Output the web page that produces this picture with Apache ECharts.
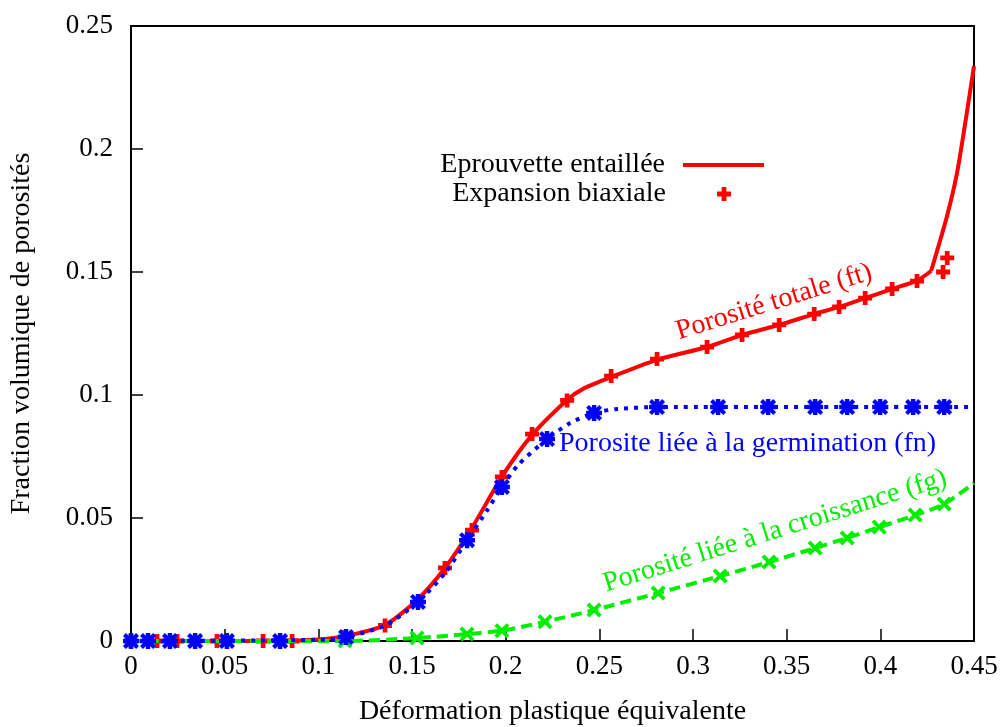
<!DOCTYPE html>
<html>
<head>
<meta charset="utf-8">
<script src="https://cdn.jsdelivr.net/npm/echarts@6/dist/echarts.min.js"></script>
<style>
html,body{margin:0;padding:0;background:#fff;}
#chart{width:1006px;height:727px;}
</style>
</head>
<body>
<div id="chart"></div>
<script>
// ---- data (x = equivalent plastic strain, y = porosity fraction) ----
const ftLine = [[0,0],[0.08,0],[0.1,0.0006],[0.117,0.0024],[0.1356,0.0065],[0.1527,0.0167],[0.1676,0.0297],[0.182,0.046],[0.1986,0.0675],[0.214,0.0837],[0.2328,0.098],[0.2413,0.1025],[0.257,0.1075],[0.2808,0.1143],[0.3075,0.1195],[0.3262,0.1244],[0.346,0.1285],[0.3647,0.1329],[0.378,0.1358],[0.3919,0.1394],[0.4063,0.1431],[0.4196,0.1465],[0.4271,0.1504]];
const ftLineEnd = [[0.4271,0.1504],[0.4355,0.1725],[0.4409,0.1901],[0.4453,0.2104],[0.45,0.2337]];
const ftPoints = [[0,0],[0.0139,0],[0.0246,0],[0.0459,0],[0.0705,0],[0.086,0],[0.114,0.0016],[0.1356,0.0063],[0.1676,0.0297],[0.182,0.0451],[0.198,0.0667],[0.2141,0.0841],[0.2328,0.0978],[0.2563,0.1077],[0.2808,0.1146],[0.3075,0.1195],[0.3262,0.1244],[0.346,0.1285],[0.3647,0.1329],[0.378,0.1358],[0.3919,0.1394],[0.4063,0.1431],[0.4196,0.1463],[0.4335,0.15],[0.4357,0.1557]];
const fnLine = [[0,0],[0.1,0.0005],[0.1148,0.0016],[0.1356,0.0063],[0.1532,0.0159],[0.168,0.028],[0.1794,0.041],[0.19,0.053],[0.198,0.0626],[0.2066,0.0715],[0.2221,0.0821],[0.2344,0.0886],[0.2472,0.0927],[0.2595,0.0943],[0.2808,0.0951],[0.45,0.0951]];
const fnPoints = [[0,0],[0.0091,0],[0.0208,0],[0.0342,0],[0.0512,0],[0.0796,0],[0.1148,0.0016],[0.1532,0.0159],[0.1794,0.041],[0.198,0.0626],[0.2221,0.0821],[0.2472,0.0927],[0.2808,0.0951],[0.3134,0.0951],[0.3401,0.0951],[0.3652,0.0951],[0.3823,0.0951],[0.3999,0.0951],[0.4175,0.0951],[0.4341,0.0951]];
const fgLine = [[0,0],[0.114,0],[0.1527,0.0012],[0.1794,0.0028],[0.198,0.0042],[0.221,0.0078],[0.2472,0.0126],[0.2814,0.0195],[0.3145,0.0264],[0.3406,0.0321],[0.3652,0.0378],[0.3823,0.0419],[0.3994,0.0463],[0.4186,0.0512],[0.4341,0.0557],[0.45,0.0642]];
const fgPoints = [[0,0],[0.0091,0],[0.0208,0],[0.0342,0],[0.0512,0],[0.0796,0],[0.1143,0],[0.1527,0.0012],[0.1794,0.0028],[0.198,0.0042],[0.221,0.0078],[0.2472,0.0126],[0.2814,0.0195],[0.3145,0.0264],[0.3406,0.0321],[0.3652,0.0378],[0.3823,0.0419],[0.3994,0.0463],[0.4186,0.0512],[0.4341,0.0557]];
const xTicks = ['0','0.05','0.1','0.15','0.2','0.25','0.3','0.35','0.4','0.45'];
const yTicks = ['0','0.05','0.1','0.15','0.2','0.25'];
const legendNames = ['Eprouvette entaillée','Expansion biaxiale'];
const annotations = ['Porosité totale (ft)','Porosite liée à la germination (fn)','Porosité liée à la croissance (fg)'];
const xTitle = 'Déformation plastique équivalente';
const yTitle = 'Fraction volumique de porosités';

const FONT = '"Liberation Serif","DejaVu Serif",serif';
const RED = '#ff0000', BLUE = '#0000ff', GREEN = '#00ee00';
const plusPath = 'path://M3.3,0H6.7V3.3H10V6.7H6.7V10H3.3V6.7H0V3.3H3.3Z';
const xPath = 'path://M0,1.8L1.8,0L10,8.2L8.2,10ZM8.2,0L10,1.8L1.8,10L0,8.2Z';
const starPath = 'path://M3.6,0H6.4V3.6H10V6.4H6.4V10H3.6V6.4H0V3.6H3.6ZM0,1.8L1.8,0L10,8.2L8.2,10ZM8.2,0L10,1.8L1.8,10L0,8.2Z';

const chart = echarts.init(document.getElementById('chart'), null, {renderer:'canvas'});
const fmt = (arr, step) => v => { const i = Math.round(v/step); return arr[i] !== undefined ? arr[i] : ''; };

chart.setOption({
  animation: false,
  backgroundColor: '#fff',
  grid: {left:131, top:26, right:32, bottom:86, containLabel:false, outerBoundsMode:'none',
         show:true, borderColor:'#000', borderWidth:2, backgroundColor:'transparent'},
  xAxis: {
    type:'value', min:0, max:0.45, interval:0.05,
    axisLine:{show:true, lineStyle:{color:'#000', width:2}},
    axisTick:{show:true, inside:true, length:12, lineStyle:{color:'#000', width:1.5}},
    splitLine:{show:false},
    axisLabel:{margin:12, color:'#000', fontFamily:FONT, fontSize:27, formatter: fmt(xTicks, 0.05)},
    name: xTitle, nameLocation:'middle', nameGap:57,
    nameTextStyle:{color:'#000', fontFamily:FONT, fontSize:28}
  },
  yAxis: {
    type:'value', min:0, max:0.25, interval:0.05,
    axisLine:{show:true, lineStyle:{color:'#000', width:2}},
    axisTick:{show:true, inside:true, length:12, lineStyle:{color:'#000', width:1.5}},
    splitLine:{show:false},
    axisLabel:{margin:18, color:'#000', fontFamily:FONT, fontSize:27, formatter: fmt(yTicks, 0.05)},
    name: yTitle, nameLocation:'middle', nameGap:95, nameRotate:90,
    nameTextStyle:{color:'#000', fontFamily:FONT, fontSize:28}
  },
  legend: [
    {data:[{name:legendNames[0], icon:'rect'}], align:'right', right:237, top:146, itemWidth:81, itemHeight:4,
     textStyle:{color:'#000', fontFamily:FONT, fontSize:28, padding:[0,13,0,0]}, selectedMode:false},
    {data:[{name:legendNames[1], icon:plusPath}], align:'right', right:270, top:175, itemWidth:14, itemHeight:14,
     textStyle:{color:'#000', fontFamily:FONT, fontSize:28, padding:[0,46,0,0]}, selectedMode:false}
  ],
  series: [
    {name:legendNames[0], type:'line', data:ftLine, showSymbol:false, symbol:'none', smooth:0.25,
     lineStyle:{color:RED, width:4}, itemStyle:{color:RED}, z:2},
    {name:'ft end', type:'line', data:ftLineEnd, showSymbol:false, symbol:'none', smooth:0.25,
     lineStyle:{color:RED, width:4}, itemStyle:{color:RED}, z:2},
    {name:legendNames[1], type:'scatter', data:ftPoints, symbol:plusPath, symbolSize:14,
     itemStyle:{color:RED, opacity:1}, z:3},
    {name:'fg', type:'line', data:fgLine, showSymbol:false, symbol:'none', smooth:0.25,
     lineStyle:{color:GREEN, width:4, type:[11,6]}, z:4},
    {name:'fg pts', type:'scatter', data:fgPoints, symbol:xPath, symbolSize:15,
     itemStyle:{color:GREEN, opacity:1}, z:5},
    {name:'fn', type:'line', data:fnLine, showSymbol:false, symbol:'none', smooth:0.25,
     lineStyle:{color:BLUE, width:4, type:[4,6]}, z:6},
    {name:'fn pts', type:'scatter', data:fnPoints, symbol:starPath, symbolSize:16,
     itemStyle:{color:BLUE, opacity:1}, z:7}
  ],
  graphic: [
    {type:'text', x:774, y:302, rotation:17.3*Math.PI/180, z:10,
     style:{text:annotations[0], fill:RED, font:'28px '+FONT, textAlign:'center', textVerticalAlign:'middle'}},
    {type:'text', x:559, y:444, z:10,
     style:{text:annotations[1], fill:BLUE, font:'28px '+FONT, textAlign:'left', textVerticalAlign:'middle'}},
    {type:'text', x:775, y:531, rotation:17.4*Math.PI/180, z:10,
     style:{text:annotations[2], fill:GREEN, font:'28px '+FONT, textAlign:'center', textVerticalAlign:'middle'}}
  ]
});
</script>
</body>
</html>
